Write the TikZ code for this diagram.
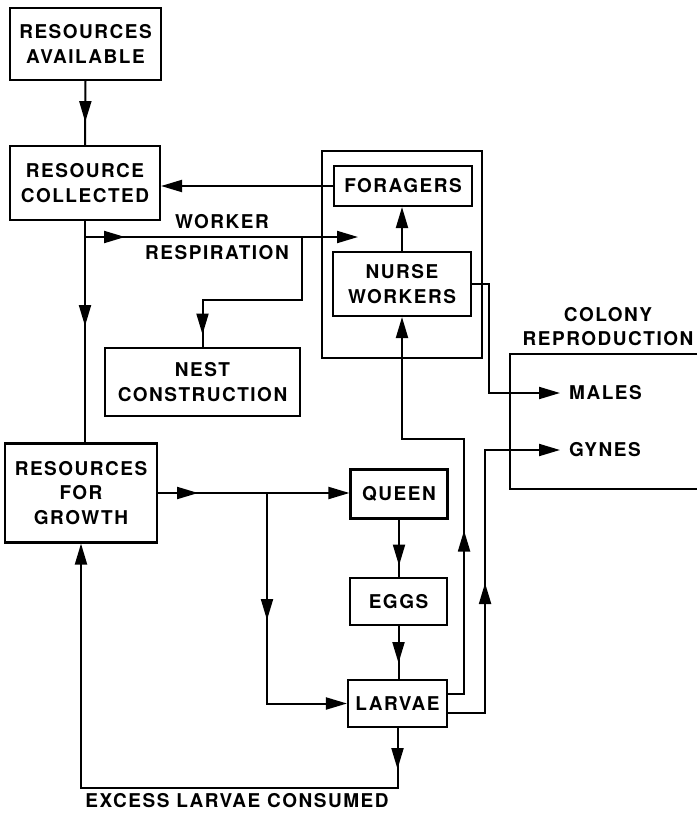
\documentclass[tikz,border=0pt]{standalone}
\usepackage{fontspec}
\setmainfont[LetterSpace=8]{TeX Gyre Heros}
\usetikzlibrary{arrows.meta,decorations.markings}
\tikzset{
  box/.style={draw, line width=2.1pt, inner sep=0pt, align=center, font=\fontsize{19}{24.5}\selectfont\bfseries},
  lbl/.style={inner sep=0pt, align=center, font=\fontsize{19}{24.5}\selectfont\bfseries},
  ln/.style={line width=2pt, line join=miter},
  tip/.style={-{Triangle[length=21pt,width=12pt]}},
  arr/.style={postaction={decorate,decoration={markings,mark=at position #1 with {\arrow{Triangle[length=21pt,width=12pt]}}}}}
}
\begin{document}
\begin{tikzpicture}[x=1pt,y=-1pt]
\useasboundingbox (0,0) rectangle (697,814);
% boxes
\node[box, minimum width=151pt, minimum height=72pt] (ra) at (85.5,44) {RESOURCES\\AVAILABLE};
\node[box, minimum width=150pt, minimum height=74pt] (rc) at (85,183) {RESOURCE\\COLLECTED};
\node[box, minimum width=195pt, minimum height=68pt] (nest) at (202.5,382) {NEST\\CONSTRUCTION};
\node[draw, line width=2.1pt, minimum width=160pt, minimum height=207pt, inner sep=0pt] (grp) at (402,254.5) {};
\node[box, minimum width=138pt, minimum height=40pt] (forg) at (403,186) {FORAGERS};
\node[box, minimum width=138pt, minimum height=64pt] (nurse) at (402,284) {NURSE\\WORKERS};
\node[box, minimum width=152pt, minimum height=99pt] (rfg) at (81,493) {RESOURCES\\FOR\\GROWTH};
\node[box, minimum width=97pt, minimum height=49pt] (queen) at (399,494) {QUEEN};
\node[box, minimum width=97pt, minimum height=47pt] (eggs) at (398.5,601.5) {EGGS};
\node[box, minimum width=99pt, minimum height=47pt] (larvae) at (397.5,703.5) {LARVAE};
% labels
\node[lbl] (wrk) at (222,222) {WORKER};
\node[lbl] (resp) at (217,253) {RESPIRATION};
\node[lbl] (colony) at (608,315) {COLONY};
\node[lbl] (repro) at (608,339) {REPRODUCTION};
\node[lbl, anchor=west] (males) at (569,393) {MALES};
\node[lbl, anchor=west] (gynes) at (569,450) {GYNES};
\node[lbl] (excess) at (237,801) {EXCESS LARVAE CONSUMED};
% coordinates
\coordinate (wrend) at (358,237);
\coordinate (wrstart) at (rc.south |- wrend);
\coordinate (nestbr) at (302,237);
\coordinate (gbr) at (267,494);
% connectors
\draw[ln, arr=41pt] (ra.south) -- (rc.north);
\draw[ln, tip] (forg.west) -- (forg.west -| rc.east);
\draw[ln, arr=105pt] (rc.south) -- (rc.south |- rfg.north);
\draw[ln, arr=40pt, tip] (wrstart) -- (wrend);
\draw[ln, arr=197pt] (nestbr) |- ([yshift=47pt]nest.north) -- (nest.north);
\draw[ln, tip] (nurse.north) -- (nurse.north |- forg.south);
\draw[ln, tip] (nurse.east) -- ++(17,0) |- ([xshift=-9pt]males.west);
\draw[ln, arr=167pt, tip] ([yshift=-9.5pt]larvae.east) -- ++(37,0) |- ([xshift=-9pt]gynes.west);
\draw[ln, arr=179pt, tip] ([yshift=10pt]larvae.east) -- ++(16,0) |- ([yshift=-122pt]nurse.south) -- (nurse.south);
\draw[ln, arr=40pt, tip] (rfg.east) -- (rfg.east -| queen.west);
\draw[ln, arr=126pt, tip] (gbr) |- (larvae.west);
\draw[ln, arr=46pt] (queen.south) -- (queen.south |- eggs.north);
\draw[ln, arr=37pt] (eggs.south) -- (eggs.south |- larvae.north);
\draw[ln, arr=41pt, tip] (larvae.south) -- ++(0,60) -| (rfg.south);
% colony reproduction bracket
\draw[ln] (697,354) -- (510,354) -- (510,489) -- (697,489);
\end{tikzpicture}
\end{document}
